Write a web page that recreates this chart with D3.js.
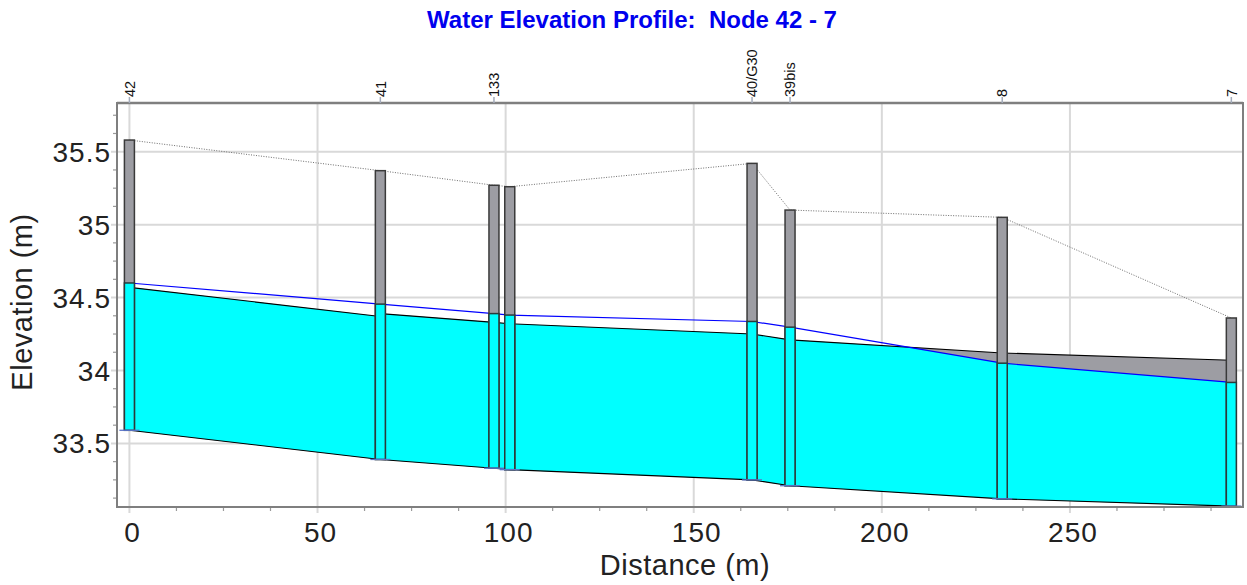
<!DOCTYPE html>
<html>
<head>
<meta charset="utf-8">
<script src="https://cdn.jsdelivr.net/npm/d3@7"></script>
<style>
  html, body { margin: 0; padding: 0; background: #fff; }
  svg { display: block; font-family: "Liberation Sans", Arial, sans-serif; }
</style>
</head>
<body>
<svg id="chart" width="1247" height="585"></svg>
<script>
// ---- data ----
const nodeLabels = ["42", "41", "133", "", "40/G30", "39bis", "8", "7"];
const nodeDistance = [0, 66.7, 96.9, 101.1, 165.5, 175.6, 232.0, 292.9];
const rimElev = [35.58, 35.37, 35.27, 35.26, 35.42, 35.10, 35.05, 34.36];
const invertElev = [33.59, 33.39, 33.33, 33.32, 33.25, 33.21, 33.12, 33.07];
const waterElev = [34.60, 34.455, 34.39, 34.38, 34.336, 34.297, 34.05, 33.918];
const conduitFrom = [0, 1, 2, 3, 4, 5, 6];
const conduitTo = [1, 2, 3, 4, 5, 6, 7];
const conduitDepth = [0.98, 1.0, 1.0, 1.0, 1.0, 1.0, 1.0];
const xTicks = [0, 50, 100, 150, 200, 250];
const yTicks = [33.5, 34, 34.5, 35, 35.5];
const yTickLabels = ["33.5", "34", "34.5", "35", "35.5"];
const titleText = "Water Elevation Profile:  Node 42 - 7";
const xTitle = "Distance (m)";
const yTitle = "Elevation (m)";

// ---- layout ----
const L = 117, R = 1243, T = 103, B = 507;
const svg = d3.select("#chart");
const x = d3.scaleLinear().domain([-3.3, 296]).range([L, R]);
const y = d3.scaleLinear().domain([33.064, 35.834]).range([B, T]);

const gridColor = "#d9d9d9", frameColor = "#7f7f7f";

// grid
const g = svg.append("g");
g.selectAll(".vg").data(xTicks).enter().append("line")
  .attr("x1", d => x(d)).attr("x2", d => x(d)).attr("y1", T).attr("y2", B + 6)
  .attr("stroke", gridColor).attr("stroke-width", 2);
g.selectAll(".hg").data(yTicks).enter().append("line")
  .attr("y1", d => y(d)).attr("y2", d => y(d)).attr("x1", L - 6).attr("x2", R)
  .attr("stroke", gridColor).attr("stroke-width", 2);

// minor ticks
const xMinor = d3.range(0, 296, 12.5).filter(v => !xTicks.includes(v));
g.selectAll(".xm").data(xMinor).enter().append("line")
  .attr("x1", d => x(d)).attr("x2", d => x(d)).attr("y1", B).attr("y2", B + 4)
  .attr("stroke", "#9a9a9a").attr("stroke-width", 1.2);
const yMinor = d3.range(33.125, 35.834, 0.125).filter(v => !yTicks.some(t => Math.abs(t - v) < 1e-6));
g.selectAll(".ym").data(yMinor).enter().append("line")
  .attr("y1", d => y(d)).attr("y2", d => y(d)).attr("x1", L - 4).attr("x2", L)
  .attr("stroke", "#9a9a9a").attr("stroke-width", 1.2);

// conduits
const conduits = conduitFrom.map((f, i) => {
  const t = conduitTo[i];
  return {
    x1: nodeDistance[f], x2: nodeDistance[t],
    inv1: invertElev[f], inv2: invertElev[t],
    cr1: invertElev[f] + conduitDepth[i], cr2: invertElev[t] + conduitDepth[i],
    w1: waterElev[f], w2: waterElev[t]
  };
});

const area = d3.area().x(d => x(d.x)).y0(d => y(d.lo)).y1(d => y(d.hi));
const cg = svg.append("g");
conduits.forEach(c => {
  cg.append("path")
    .attr("d", area([{x: c.x1, lo: c.inv1, hi: c.cr1}, {x: c.x2, lo: c.inv2, hi: c.cr2}]))
    .attr("fill", "#9d9da3").attr("stroke", "none");
  const pts = [{x: c.x1, lo: c.inv1, hi: Math.min(c.w1, c.cr1)}];
  const d1 = c.w1 - c.cr1, d2 = c.w2 - c.cr2;
  if (d1 * d2 < 0) {
    const t = d1 / (d1 - d2);
    pts.push({x: c.x1 + t * (c.x2 - c.x1), lo: c.inv1 + t * (c.inv2 - c.inv1), hi: c.cr1 + t * (c.cr2 - c.cr1)});
  }
  pts.push({x: c.x2, lo: c.inv2, hi: Math.min(c.w2, c.cr2)});
  cg.append("path").attr("d", area(pts)).attr("fill", "#00ffff").attr("stroke", "none");
  cg.append("line").attr("x1", x(c.x1)).attr("x2", x(c.x2)).attr("y1", y(c.cr1)).attr("y2", y(c.cr2))
    .attr("stroke", "#000").attr("stroke-width", 1.1);
  cg.append("line").attr("x1", x(c.x1)).attr("x2", x(c.x2)).attr("y1", y(c.inv1)).attr("y2", y(c.inv2))
    .attr("stroke", "#000").attr("stroke-width", 1.1);
});

// water line
const line = d3.line().x(d => x(d[0])).y(d => y(d[1]));
svg.append("path").attr("d", line(nodeDistance.map((d, i) => [d, waterElev[i]])))
  .attr("fill", "none").attr("stroke", "#0000ff").attr("stroke-width", 1.2);

// rim (ground) dotted line
svg.append("path").attr("d", line(nodeDistance.map((d, i) => [d, rimElev[i]])))
  .attr("fill", "none").attr("stroke", "#6e6e6e").attr("stroke-width", 1).attr("stroke-dasharray", "1,1.5");

// nodes
const bw = 10;
const ng = svg.append("g");
nodeDistance.forEach((d, i) => {
  const cx = x(d);
  ng.append("rect").attr("x", cx - bw / 2).attr("width", bw)
    .attr("y", y(rimElev[i])).attr("height", y(invertElev[i]) - y(rimElev[i]))
    .attr("fill", "#9d9da3").attr("stroke", "#3a3a3a").attr("stroke-width", 1.5);
  const wt = Math.min(waterElev[i], rimElev[i]);
  ng.append("rect").attr("x", cx - bw / 2).attr("width", bw)
    .attr("y", y(wt)).attr("height", y(invertElev[i]) - y(wt))
    .attr("fill", "#00ffff").attr("stroke", "#2a3a3a").attr("stroke-width", 1.5);
  ng.append("line").attr("x1", cx - 10).attr("x2", cx + 10)
    .attr("y1", y(invertElev[i])).attr("y2", y(invertElev[i]))
    .attr("stroke", "#5a74c8").attr("stroke-width", 1.3);
});

// frame
svg.append("rect").attr("x", L).attr("y", T).attr("width", R - L).attr("height", B - T)
  .attr("fill", "none").attr("stroke", frameColor).attr("stroke-width", 2);
svg.append("line").attr("x1", L).attr("x2", R).attr("y1", T).attr("y2", T)
  .attr("stroke", frameColor).attr("stroke-width", 2.5);

// node labels on top
nodeDistance.forEach((d, i) => {
  if (!nodeLabels[i]) return;
  const cx = x(d);
  svg.append("line").attr("x1", cx).attr("x2", cx).attr("y1", T - 6).attr("y2", T)
    .attr("stroke", "#a4acbc").attr("stroke-width", 1.5);
  svg.append("text").attr("transform", `translate(${cx},97) rotate(-90)`)
    .attr("dy", "0.36em").attr("text-anchor", "start")
    .attr("font-size", 14.5).attr("fill", "#111").text(nodeLabels[i]);
});

// tick labels
svg.selectAll(".xl").data(xTicks).enter().append("text")
  .attr("x", d => x(d) + 3).attr("y", 542).attr("text-anchor", "middle")
  .attr("font-size", 28).attr("letter-spacing", 1).attr("fill", "#222").text(d => d);
svg.selectAll(".yl").data(yTicks).enter().append("text")
  .attr("x", 111).attr("y", d => y(d)).attr("dy", "0.36em").attr("text-anchor", "end")
  .attr("font-size", 28).attr("letter-spacing", 1).attr("fill", "#222").text((d, i) => yTickLabels[i]);

// axis titles
svg.append("text").attr("x", 685).attr("y", 575).attr("text-anchor", "middle")
  .attr("font-size", 29).attr("letter-spacing", 0.5).attr("fill", "#222").text(xTitle);
svg.append("text").attr("transform", "translate(32,302) rotate(-90)").attr("text-anchor", "middle")
  .attr("font-size", 29).attr("letter-spacing", 0.5).attr("fill", "#222").text(yTitle);

// title
svg.append("text").attr("x", 632).attr("y", 28).attr("text-anchor", "middle")
  .attr("font-size", 24).attr("font-weight", "bold").attr("fill", "#0000ee")
  .style("white-space", "pre").text(titleText);
</script>
</body>
</html>
